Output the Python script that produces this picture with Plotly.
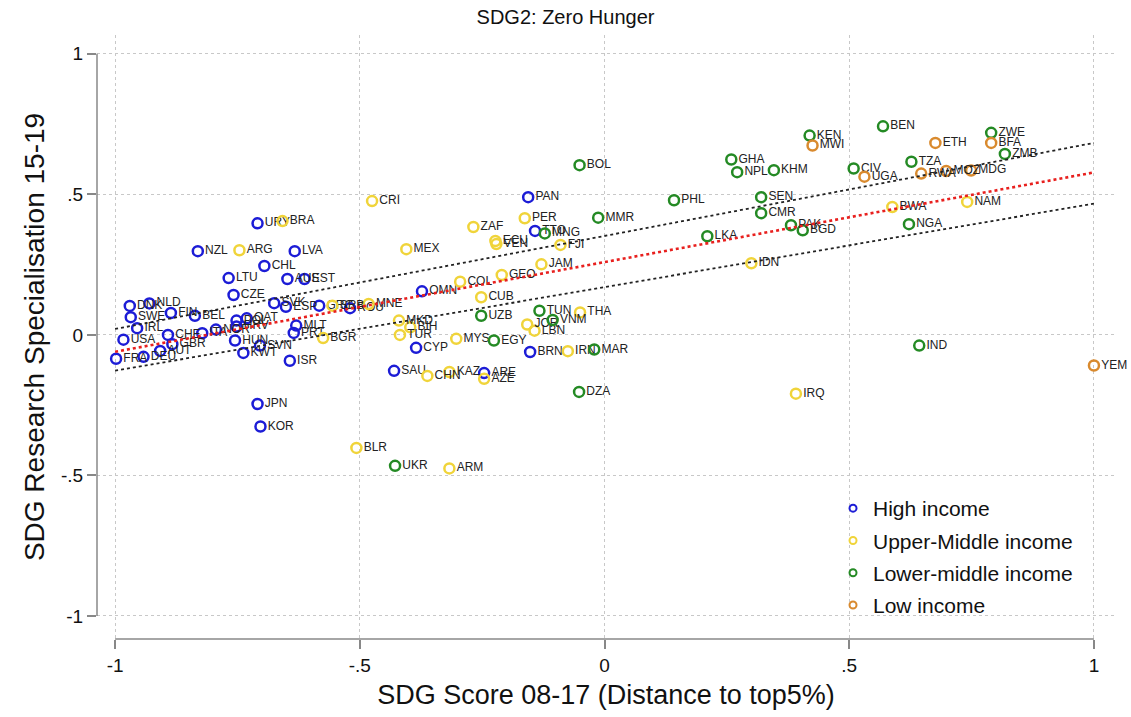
import plotly.graph_objects as go

# ---- Country scores: x = SDG score 08-17 (distance to top 5%), y = research specialisation 15-19
high_codes = ["URY", "NZL", "LVA", "CHL", "LTU", "AUS", "EST", "CZE", "DNK", "NLD",
              "SWE", "FIN", "BEL", "IRL", "USA", "CHE", "GBR", "AUT", "DEU", "FRA",
              "ITA", "NOR", "POL", "QAT", "HRV", "HUN", "KWT", "SVN", "ISR", "PRT",
              "MLT", "SVK", "ESP", "GRC", "ROU", "OMN", "CYP", "SAU", "ARE", "BRN",
              "PAN", "TTO", "JPN", "KOR"]
high_x = [-0.709, -0.831, -0.633, -0.695, -0.768, -0.648, -0.613, -0.758, -0.970, -0.930,
          -0.968, -0.886, -0.837, -0.955, -0.983, -0.892, -0.883, -0.908, -0.942, -0.998,
          -0.822, -0.794, -0.752, -0.731, -0.752, -0.755, -0.738, -0.704, -0.643, -0.635,
          -0.630, -0.675, -0.651, -0.583, -0.520, -0.373, -0.385, -0.430, -0.246, -0.152,
          -0.156, -0.142, -0.709, -0.703]
high_y = [0.397, 0.298, 0.298, 0.245, 0.202, 0.199, 0.199, 0.142, 0.103, 0.112,
          0.063, 0.078, 0.068, 0.024, -0.017, 0.000, -0.033, -0.057, -0.078, -0.085,
          0.006, 0.019, 0.051, 0.059, 0.030, -0.020, -0.064, -0.038, -0.092, 0.007,
          0.033, 0.113, 0.100, 0.104, 0.095, 0.155, -0.046, -0.128, -0.136, -0.061,
          0.490, 0.370, -0.246, -0.326]

upper_codes = ["BRA", "ARG", "CRI", "MEX", "ZAF", "PER", "ECU", "VEN", "FJI", "JAM",
               "GEO", "COL", "CUB", "MKD", "BIH", "TUR", "MYS", "JOR", "LBN", "THA",
               "IRN", "CHN", "KAZ", "AZE", "BLR", "ARM", "BGR", "SRB", "MNE", "IRQ",
               "IDN", "BWA", "NAM"]
upper_x = [-0.658, -0.746, -0.475, -0.405, -0.268, -0.163, -0.223, -0.221, -0.090, -0.129,
           -0.210, -0.295, -0.252, -0.420, -0.397, -0.418, -0.303, -0.158, -0.143, -0.050,
           -0.075, -0.362, -0.317, -0.246, -0.507, -0.317, -0.575, -0.556, -0.482, 0.391,
           0.300, 0.588, 0.741]
upper_y = [0.405, 0.301, 0.476, 0.305, 0.384, 0.415, 0.334, 0.323, 0.320, 0.251,
           0.213, 0.189, 0.134, 0.051, 0.027, 0.000, -0.014, 0.037, 0.015, 0.080,
           -0.058, -0.146, -0.132, -0.156, -0.402, -0.475, -0.011, 0.104, 0.110, -0.209,
           0.255, 0.455, 0.473]

lower_codes = ["BOL", "MMR", "MNG", "UZB", "EGY", "TUN", "VNM", "MAR", "DZA", "UKR",
               "PHL", "GHA", "NPL", "KHM", "SEN", "CMR", "LKA", "PAK", "BGD", "KEN",
               "BEN", "CIV", "TZA", "ZWE", "ZMB", "NGA", "IND"]
lower_x = [-0.051, -0.013, -0.122, -0.252, -0.226, -0.133, -0.106, -0.021, -0.052, -0.428,
           0.142, 0.259, 0.271, 0.346, 0.320, 0.320, 0.210, 0.381, 0.405, 0.419,
           0.569, 0.509, 0.627, 0.790, 0.818, 0.622, 0.643]
lower_y = [0.604, 0.417, 0.361, 0.068, -0.020, 0.086, 0.053, -0.052, -0.203, -0.466,
           0.479, 0.624, 0.579, 0.586, 0.490, 0.433, 0.351, 0.390, 0.372, 0.709,
           0.742, 0.592, 0.616, 0.719, 0.644, 0.394, -0.038]

low_codes = ["MWI", "ETH", "BFA", "UGA", "RWA", "MOZ", "MDG", "YEM"]
low_x = [0.425, 0.676, 0.790, 0.531, 0.647, 0.698, 0.749, 1.000]
low_y = [0.674, 0.683, 0.683, 0.563, 0.574, 0.583, 0.585, -0.109]

# ---- Linear fit and its confidence band, evaluated at the ends of the x range
fit_x = [-1.0, 1.0]
fit_y = [-0.060, 0.578]
ci_upper_y = [0.021, 0.683]
ci_lower_y = [-0.127, 0.467]

# ---- Axis ticks
tick_vals = [-1, -0.5, 0, 0.5, 1]
tick_text = ["-1", "-.5", "0", ".5", "1"]

groups = [
    ("High income", high_codes, high_x, high_y, "#1c1cd6"),
    ("Upper-Middle income", upper_codes, upper_x, upper_y, "#f0d43a"),
    ("Lower-middle income", lower_codes, lower_x, lower_y, "#248a24"),
    ("Low income", low_codes, low_x, low_y, "#d98a2e"),
]

FONT = "Liberation Sans, Arial, Helvetica, sans-serif"

fig = go.Figure()

# Labelled country markers (legend entries are drawn by separate small-symbol traces)
for name, codes, xs, ys, color in groups:
    fig.add_trace(go.Scatter(
        x=xs, y=ys, text=codes, name=name, showlegend=False,
        mode="markers+text", textposition="middle right", cliponaxis=False,
        textfont=dict(family=FONT, size=12, color="#222222"),
        marker=dict(symbol="circle-open", size=10, color=color,
                    line=dict(width=2.5, color=color)),
    ))

for band in (ci_upper_y, ci_lower_y):
    fig.add_trace(go.Scatter(
        x=fit_x, y=band, mode="lines", showlegend=False, hoverinfo="skip",
        line=dict(color="#222222", width=1.8, dash="dot"),
    ))
fig.add_trace(go.Scatter(
    x=fit_x, y=fit_y, mode="lines", showlegend=False, hoverinfo="skip",
    line=dict(color="#e8201e", width=2.6, dash="dot"),
))

# Legend keys with small open circles
for name, codes, xs, ys, color in groups:
    fig.add_trace(go.Scatter(
        x=[None], y=[None], name=name, mode="markers", showlegend=True,
        legendgroup=name,
        marker=dict(symbol="circle-open", size=7, color=color,
                    line=dict(width=2, color=color)),
    ))

axis_common = dict(
    tickvals=tick_vals, ticktext=tick_text,
    showgrid=True, gridcolor="#c8c8c8", griddash="dot", gridwidth=1,
    zeroline=False, showline=False,
    ticks="outside", ticklen=9, tickwidth=1.5, tickcolor="#888888",
    tickfont=dict(family=FONT, size=19, color="#111111"),
)

fig.update_xaxes(
    range=[-1.037, 1.043],
    title=dict(text="SDG Score 08-17 (Distance to top5%)", standoff=10,
               font=dict(family=FONT, size=27, color="#111111")),
    **axis_common,
)
fig.update_yaxes(
    range=[-1.082, 1.067],
    title=dict(text="SDG Research Specialisation 15-19", standoff=8,
               font=dict(family=FONT, size=28, color="#111111")),
    **axis_common,
)

# Axis lines spanning only the labelled tick range
fig.add_shape(type="line", xref="paper", yref="y", x0=0, x1=0, y0=-1, y1=1,
              line=dict(color="#888888", width=1.5))
fig.add_shape(type="line", xref="x", yref="paper", x0=-1, x1=1, y0=0, y1=0,
              line=dict(color="#888888", width=1.5))

fig.update_layout(
    width=1131, height=717,
    paper_bgcolor="white", plot_bgcolor="white",
    margin=dict(l=97, r=16, t=35, b=76),
    title=dict(text="SDG2: Zero Hunger", x=0.5, xref="container", xanchor="center",
               y=0.976, yref="container", yanchor="middle",
               font=dict(family=FONT, size=20, color="#111111")),
    legend=dict(x=0.723, y=0.25, xanchor="left", yanchor="top",
                bgcolor="rgba(255,255,255,0)", borderwidth=0,
                font=dict(family=FONT, size=21, color="#111111"),
                tracegroupgap=2, itemsizing="trace"),
    showlegend=True,
)

fig.write_html("out.html")
